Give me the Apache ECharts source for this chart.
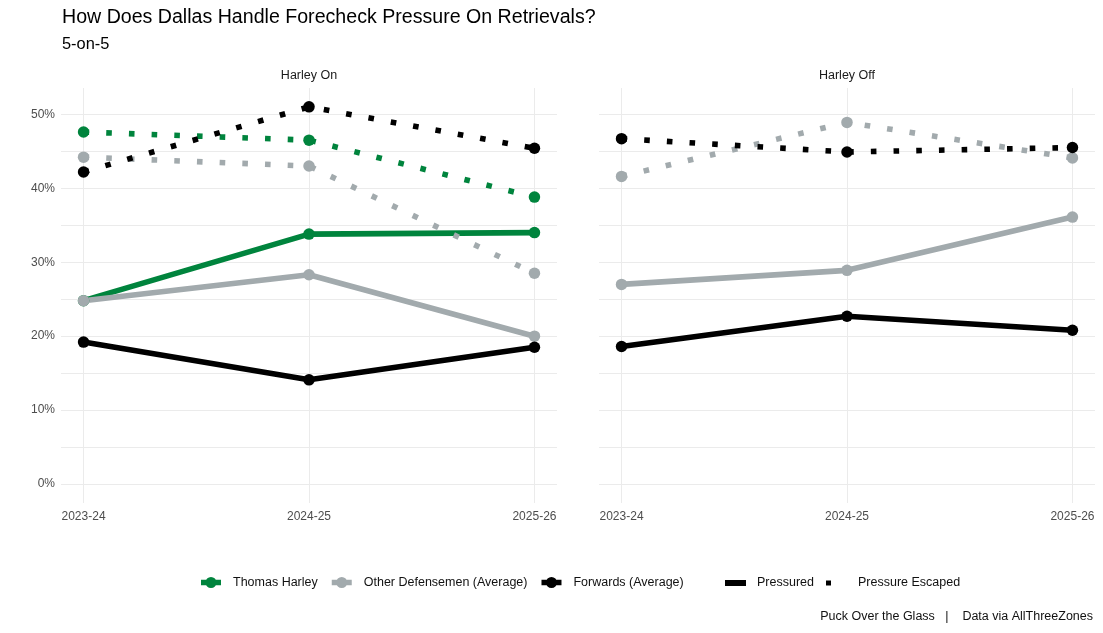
<!DOCTYPE html>
<html><head><meta charset="utf-8">
<script src="https://cdn.jsdelivr.net/npm/echarts@6/dist/echarts.min.js"></script>
<style>html,body{margin:0;padding:0;background:#fff}#chart{width:1103px;height:633px}</style>
</head><body><div id="chart"></div>
<script>
// ---- data ----
const seasons = ['2023-24', '2024-25', '2025-26'];
const panels = ['Harley On', 'Harley Off'];
const groups = ['Thomas Harley', 'Other Defensemen (Average)', 'Forwards (Average)'];
const situations = ['Pressured', 'Pressure Escaped'];

// Harley On
const onHarleyPressured   = [24.8, 33.8, 34.0];
const onHarleyEscaped     = [47.6, 46.5, 38.8];
const onOtherDPressured   = [24.8, 28.3, 20.0];
const onOtherDEscaped     = [44.2, 43.0, 28.5];
const onForwardsPressured = [19.2, 14.1, 18.5];
const onForwardsEscaped   = [42.2, 51.0, 45.4];
// Harley Off
const offOtherDPressured   = [27.0, 28.9, 36.1];
const offOtherDEscaped     = [41.6, 48.9, 44.1];
const offForwardsPressured = [18.6, 22.7, 20.8];
const offForwardsEscaped   = [46.7, 44.9, 45.5];

const yTickLabels = [0, 10, 20, 30, 40, 50];
const yGridValues = [0, 5, 10, 15, 20, 25, 30, 35, 40, 45, 50];
const xTickValues = [0, 1, 2];

// ---- styling ----
const FONT = "'Liberation Sans', Arial, sans-serif";
const groupColors = { 'Thomas Harley': '#00843D', 'Other Defensemen (Average)': '#A2AAAD', 'Forwards (Average)': '#000000' };
const LW = 5.6;
const dotted = [5.6, 17.1];

const panelData = [
  [
    ['Thomas Harley', onHarleyPressured, onHarleyEscaped],
    ['Other Defensemen (Average)', onOtherDPressured, onOtherDEscaped],
    ['Forwards (Average)', onForwardsPressured, onForwardsEscaped]
  ],
  [
    ['Other Defensemen (Average)', offOtherDPressured, offOtherDEscaped],
    ['Forwards (Average)', offForwardsPressured, offForwardsEscaped]
  ]
];

// y range like ggplot: include 0, expand 5%
const allVals = [].concat(onHarleyPressured, onHarleyEscaped, onOtherDPressured, onOtherDEscaped,
  onForwardsPressured, onForwardsEscaped, offOtherDPressured, offOtherDEscaped, offForwardsPressured, offForwardsEscaped);
const yHi = Math.max.apply(null, allVals);
const yLo = 0;
const yMin = yLo - (yHi - yLo) * 0.05;
const yMax = yHi + (yHi - yLo) * 0.05;

const grids = [
  { left: 61, top: 88, width: 496, height: 415 },
  { left: 599, top: 88, width: 496, height: 415 }
];

const xAxes = grids.map((g, i) => ({
  type: 'value', gridIndex: i, min: -0.1, max: 2.1,
  axisLine: { show: false }, axisTick: { show: false }, splitLine: { show: false },
  axisLabel: {
    customValues: xTickValues, formatter: v => seasons[Math.round(v)] || '',
    color: '#4d4d4d', fontSize: 12, fontFamily: FONT, margin: 8
  }
}));
const yAxes = grids.map((g, i) => ({
  type: 'value', gridIndex: i, min: yMin, max: yMax,
  axisLine: { show: false }, axisTick: { show: false }, splitLine: { show: false },
  axisLabel: {
    show: i === 0, customValues: yTickLabels, formatter: v => Math.round(v) + '%',
    color: '#4d4d4d', fontSize: 12, fontFamily: FONT, margin: 6
  }
}));

const series = [];
// panel grid lines (drawn beneath the data)
grids.forEach((g, i) => {
  series.push({
    type: 'line', name: 'grid' + i, xAxisIndex: i, yAxisIndex: i, data: [], z: 0, silent: true,
    markLine: {
      z: 0, silent: true, symbol: ['none', 'none'], animation: false,
      label: { show: false },
      lineStyle: { color: '#ebebeb', width: 1, type: 'solid' },
      emphasis: { disabled: true },
      data: xTickValues.map(v => ({ xAxis: v })).concat(yGridValues.map(v => ({ yAxis: v })))
    }
  });
});

panelData.forEach((rows, p) => {
  rows.forEach(([name, pressured, escaped]) => {
    const color = groupColors[name];
    [[pressured, 'solid'], [escaped, dotted]].forEach(([vals, lt]) => {
      series.push({
        type: 'line', name: name, xAxisIndex: p, yAxisIndex: p,
        data: vals.map((v, k) => [k, v]),
        symbol: 'circle', symbolSize: 11.5, showSymbol: true,
        lineStyle: { color: color, width: LW, type: lt, cap: 'butt' },
        itemStyle: { color: color },
        emphasis: { disabled: true }, z: 2
      });
    });
  });
});

// line-type legend entries
series.push({ type: 'line', name: situations[0], xAxisIndex: 0, yAxisIndex: 0, data: [], symbol: 'none',
  itemStyle: { color: '#000' }, lineStyle: { color: '#000', width: LW, type: 'solid' } });
series.push({ type: 'line', name: situations[1], xAxisIndex: 0, yAxisIndex: 0, data: [], symbol: 'none',
  itemStyle: { color: '#000' }, lineStyle: { color: '#000', width: LW, type: dotted } });

const legendText = { color: '#111', fontSize: 12.5, fontFamily: FONT };
const keyIcon = 'path://M0,3.2H20V8.8H0Z M4.5,6A5.5,5.5 0 1,1 15.5,6A5.5,5.5 0 1,1 4.5,6Z';

const option = {
  animation: false,
  backgroundColor: '#ffffff',
  grid: grids,
  xAxis: xAxes,
  yAxis: yAxes,
  series: series,
  legend: [
    { data: groups, left: 201, top: 576, padding: 0, itemWidth: 20, itemHeight: 12, itemGap: 14,
      icon: keyIcon, textStyle: Object.assign({ padding: [0, 0, 0, 7] }, legendText), selectedMode: false },
    { data: [situations[0]], left: 725, top: 576.5, padding: 0, itemWidth: 21, itemHeight: 6,
      icon: 'rect', textStyle: Object.assign({ padding: [0, 0, 0, 6] }, legendText), selectedMode: false },
    { data: [situations[1]], left: 826, top: 576.5, padding: 0, itemWidth: 5, itemHeight: 5,
      icon: 'rect', textStyle: Object.assign({ padding: [0, 0, 0, 22] }, legendText), selectedMode: false }
  ],
  graphic: [
    { type: 'text', left: 62, top: 8, style: { text: 'How Does Dallas Handle Forecheck Pressure On Retrievals?', fill: '#000', font: '19.6px ' + FONT } },
    { type: 'text', left: 62, top: 36, style: { text: '5-on-5', fill: '#000', font: '16.4px ' + FONT } },
    { type: 'text', x: 309, y: 76, style: { text: panels[0], fill: '#1a1a1a', font: '12.5px ' + FONT, align: 'center', verticalAlign: 'middle' } },
    { type: 'text', x: 847, y: 76, style: { text: panels[1], fill: '#1a1a1a', font: '12.5px ' + FONT, align: 'center', verticalAlign: 'middle' } },
    { type: 'text', x: 1093, y: 617, style: { text: 'Puck Over the Glass   |    Data via AllThreeZones', fill: '#111', font: '12.5px ' + FONT, align: 'right', verticalAlign: 'middle' } }
  ]
};

const chart = echarts.init(document.getElementById('chart'), null, { renderer: 'canvas' });
chart.setOption(option);
</script>
</body></html>
